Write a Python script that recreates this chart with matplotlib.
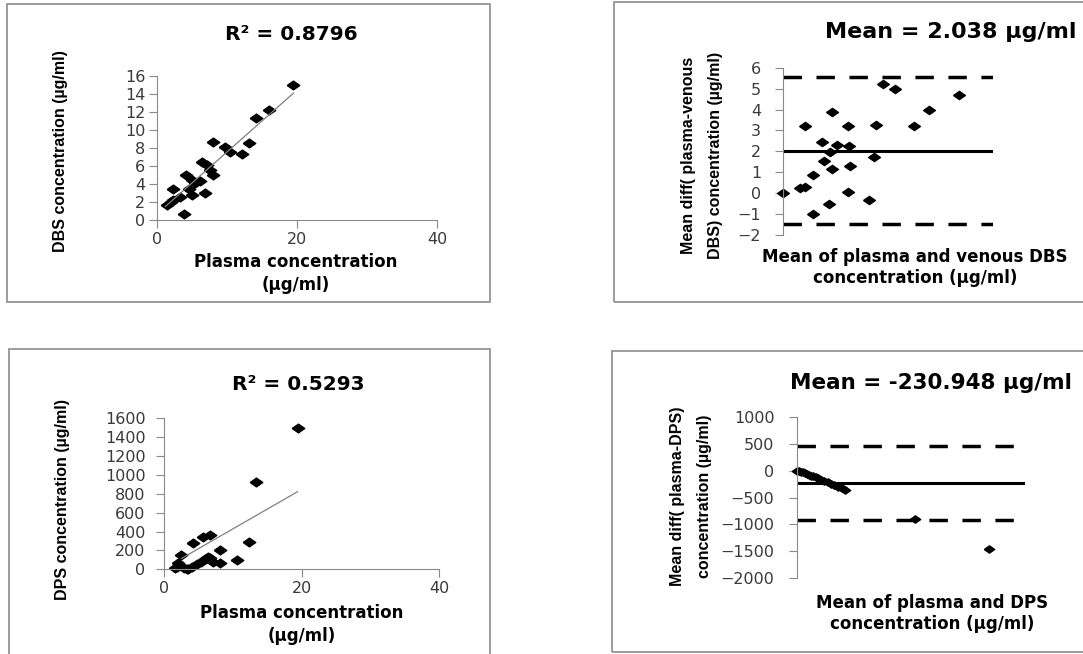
import numpy as np
import matplotlib
matplotlib.use("Agg")
import matplotlib.pyplot as plt
from matplotlib.patches import Rectangle

W, H = 1083, 654

# plasma vs venous DBS (top left)
plasma_dbs = [19.4, 16.0, 14.2, 13.2, 12.2, 10.4, 9.7, 8.0, 8.0, 7.6, 7.2, 6.4, 6.9,
              6.1, 5.4, 5.0, 4.2, 4.5, 5.0, 3.8, 3.3, 2.3, 2.3, 2.0, 1.4]
dbs_conc = [15.0, 12.2, 11.3, 8.6, 7.3, 7.6, 8.1, 8.7, 5.0, 5.6, 6.1, 6.5, 3.0,
            4.3, 4.1, 4.4, 5.0, 3.5, 2.8, 0.7, 2.6, 3.5, 2.2, 2.0, 1.7]
# linear trendline as drawn in the source chart (end points)
dbs_trend_x = [1.2, 19.5]
dbs_trend_y = [1.5, 14.1]

# Bland-Altman plasma vs venous DBS (top right)
ba_dbs_mean = [0.0, 1.65, 2.12, 2.86, 2.86, 3.77, 3.96, 4.44, 4.50, 4.67, 4.67, 2.12,
               5.14, 6.25, 6.25, 6.31, 6.41, 8.22, 8.70, 8.89, 9.58, 10.7, 12.5, 13.9, 16.8]
ba_dbs_diff = [0.02, 0.26, 0.28, 0.87, -1.01, 2.45, 1.56, -0.52, 1.99, 1.14, 3.90, 3.22,
               2.31, 3.22, 0.04, 2.26, 1.30, -0.33, 1.73, 3.26, 5.22, 4.97, 3.22, 3.97, 4.68]
dbs_mean_diff = 2.038
dbs_limits = [5.55, -1.47]

# plasma vs DPS (bottom left)
plasma_dps = [19.4, 13.4, 12.4, 10.6, 8.1, 6.6, 5.7, 4.2, 2.5, 1.6, 3.5, 3.3, 2.0, 2.8,
              4.0, 4.7, 5.4, 5.9, 6.4, 7.1, 8.1, 6.65, 1.8]
dps_conc = [1494, 921, 290, 102, 204, 360, 345, 280, 151, 15, 0, 5, 63, 10,
            28, 56, 81, 106, 134, 81, 63, 116, 28]
dps_trend_x = [2.5, 19.4]
dps_trend_y = [115, 822]

# Bland-Altman plasma vs DPS (bottom right)
ba_dps_mean = [0, 8, 15, 22, 30, 38, 45, 55, 62, 72, 82, 95, 105, 120, 135, 145,
               160, 175, 188, 467, 757]
ba_dps_diff = [0, -12, -25, -35, -50, -62, -75, -95, -105, -125, -145, -170, -190,
               -215, -250, -270, -300, -330, -355, -905, -1460]
dps_mean_diff = -230.948
dps_limits = [459, -921]

TICKFONT = ['DejaVu Sans']
BOLDFONT = ['DejaVu Sans']
NARROW = ['Liberation Sans', 'DejaVu Sans']
SPINE = '#8a8a8a'
diamond = [(-1, 0), (0, 0.7), (1, 0), (0, -0.7), (-1, 0)]


def px(x, y):
    return x / W, 1 - y / H


def ax_at(x0, y0, x1, y1):
    # pixel box -> axes
    return fig.add_axes([x0 / W, 1 - y1 / H, (x1 - x0) / W, (y1 - y0) / H])


def style(ax, ypad, show_x=True):
    for s in ['top', 'right']:
        ax.spines[s].set_visible(False)
    ax.spines['left'].set_color(SPINE)
    ax.spines['bottom'].set_color(SPINE)
    ax.spines['bottom'].set_visible(show_x)
    ax.tick_params(direction='out', length=5.5, color=SPINE, labelsize=11.5,
                   labelcolor='#3a3a3a', width=0.8)
    ax.tick_params(axis='y', pad=ypad)
    ax.tick_params(axis='x', pad=3)
    for lab in ax.get_xticklabels() + ax.get_yticklabels():
        lab.set_family(TICKFONT)
    if not show_x:
        ax.set_xticks([])


def ftext(x, y, s, size, **kw):
    fig.text(*px(x, y), s, fontsize=size, fontweight='bold', ha=kw.pop('ha', 'center'),
             va='center', color='black', **kw)


fig = plt.figure(figsize=(W / 100, H / 100), dpi=100)

# panel frames
for (x0, y0, x1, y1) in [(7, 4, 490, 302), (614, 2, 1110, 302),
                         (9, 349, 490, 670), (612, 351, 1110, 652)]:
    fig.patches.append(Rectangle(px(x0, y1), (x1 - x0) / W, (y1 - y0) / H,
                                 transform=fig.transFigure, fill=False,
                                 edgecolor='#8c8c8c', lw=1.2))

# ---- top left
ax1 = ax_at(157, 76, 437, 220)
ax1.plot(plasma_dbs, dbs_conc, ls='none', marker=diamond, ms=9, color='black', clip_on=False)
ax1.plot(dbs_trend_x, dbs_trend_y, color='#808080', lw=0.9)
ax1.set_xlim(0, 40)
ax1.set_ylim(0, 16)
ax1.set_xticks([0, 20, 40])
ax1.set_yticks(range(0, 17, 2))
style(ax1, 3)
ftext(291, 35, 'R² = 0.8796', 14.5, family=BOLDFONT)
ftext(296, 262, 'Plasma concentration', 12, family=BOLDFONT)
ftext(296, 285, '(µg/ml)', 12, family=BOLDFONT)
ftext(60, 151, 'DBS concentration (µg/ml)', 11.5, family=NARROW, rotation=90)

# ---- top right
ax2 = ax_at(782.7, 67.7, 992.7, 235)
ax2.plot(ba_dbs_mean, ba_dbs_diff, ls='none', marker=diamond, ms=8.5, color='black', clip_on=False)
ax2.axhline(dbs_mean_diff, color='black', lw=2.2)
for lim in dbs_limits:
    ax2.axhline(lim, color='black', lw=2.5, ls=(0, (5.3, 4.2)))
ax2.set_xlim(0, 20)
ax2.set_ylim(-2, 6)
ax2.set_yticks(range(-2, 7))
style(ax2, 10, show_x=False)
ftext(951, 32, 'Mean = 2.038 µg/ml', 16, family=BOLDFONT)
ftext(915, 257, 'Mean of plasma and venous DBS', 12, family=BOLDFONT)
ftext(915, 278, 'concentration (µg/ml)', 12, family=BOLDFONT)
ftext(702, 155, 'Mean diff( plasma-venous\nDBS) concentration (µg/ml)', 11.5,
      family=NARROW, rotation=90, linespacing=2.0)

# ---- bottom left
ax3 = ax_at(164.3, 418.3, 439, 569.3)
ax3.plot(plasma_dps, dps_conc, ls='none', marker=diamond, ms=9, color='black', clip_on=False)
ax3.plot(dps_trend_x, dps_trend_y, color='#808080', lw=0.9)
ax3.set_xlim(0, 40)
ax3.set_ylim(0, 1600)
ax3.set_xticks([0, 20, 40])
ax3.set_yticks(range(0, 1601, 200))
style(ax3, 8)
ftext(298, 385, 'R² = 0.5293', 14.5, family=BOLDFONT)
ftext(301.7, 613, 'Plasma concentration', 12, family=BOLDFONT)
ftext(301.7, 636, '(µg/ml)', 12, family=BOLDFONT)
ftext(63, 499, 'DPS concentration (µg/ml)', 11.5, family=NARROW, rotation=90)

# ---- bottom right
ax4 = ax_at(797.3, 416.7, 1025, 578.3)
ax4.plot(ba_dps_mean, ba_dps_diff, ls='none', marker=diamond, ms=7.5, color='black', clip_on=False)
ax4.axhline(dps_mean_diff, color='black', lw=2.2)
for lim in dps_limits:
    ax4.axhline(lim, color='black', lw=2.5, ls=(0, (5.3, 4.2)))
ax4.set_xlim(0, 900)
ax4.set_ylim(-2000, 1000)
ax4.set_yticks(range(-2000, 1001, 500))
style(ax4, 11, show_x=False)
ftext(790, 383, 'Mean = -230.948 µg/ml', 15.5, family=BOLDFONT, ha='left')
ftext(932.5, 602.7, 'Mean of plasma and DPS', 12, family=BOLDFONT)
ftext(932.5, 624, 'concentration (µg/ml)', 12, family=BOLDFONT)
ftext(691, 496, 'Mean diff( plasma-DPS)\nconcentration (µg/ml)', 11.5,
      family=NARROW, rotation=90, linespacing=2.0)

fig.savefig('out.png', dpi=100)
